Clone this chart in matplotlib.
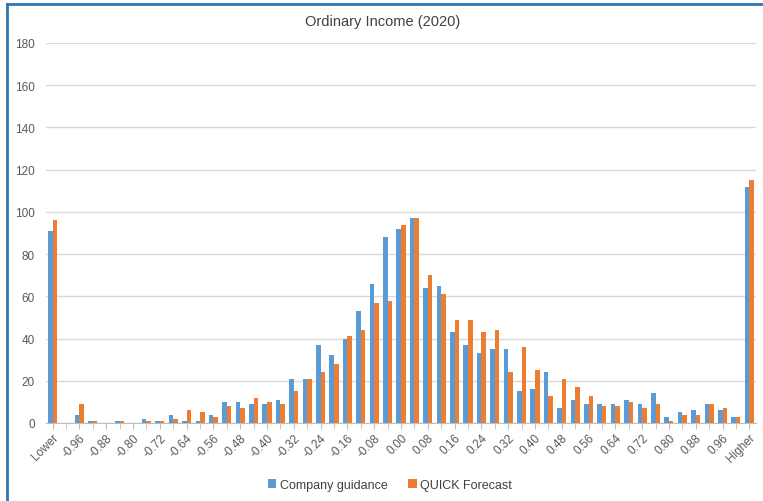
import matplotlib
matplotlib.use("Agg")
import matplotlib.pyplot as plt
from matplotlib.lines import Line2D
import numpy as np

plt.rcParams['font.family'] = ['Liberation Sans', 'DejaVu Sans']

# bins: Lower, -1.00 ... 1.00 step 0.04, Higher
edges = [round(-1.00 + 0.04 * i, 2) for i in range(51)]
categories = ['Lower'] + ['%.2f' % (e if abs(e) > 1e-9 else 0.0) for e in edges] + ['Higher']

company = [91, 0, 4, 1, 0, 1, 0, 2, 1, 4, 1, 1, 4, 10, 10, 9, 9, 11, 21, 21,
           37, 32, 40, 53, 66, 88, 92, 97, 64, 65, 43, 37, 33, 35, 35, 15, 16,
           24, 7, 11, 9, 9, 9, 11, 9, 14, 3, 5, 6, 9, 6, 3, 112]
quick = [96, 0, 9, 1, 0, 1, 0, 1, 1, 2, 6, 5, 3, 8, 7, 12, 10, 9, 15, 21,
         24, 28, 41, 44, 57, 58, 94, 97, 70, 61, 49, 49, 43, 44, 24, 36, 25,
         13, 21, 17, 13, 8, 8, 10, 7, 9, 1, 4, 4, 9, 7, 3, 115]

blue = '#5B9BD5'
orange = '#ED7D31'
grey_txt = '#595959'

fig = plt.figure(figsize=(7.63, 5.02), dpi=100)
ax = fig.add_axes([46 / 763, 1 - 424 / 502, 710 / 763, 380 / 502])

x = np.arange(len(categories))
w = 0.34
ax.bar(x - w / 2, company, width=w, color=blue, label='Company guidance', zorder=3)
ax.bar(x + w / 2, quick, width=w, color=orange, label='QUICK Forecast', zorder=3)

ax.set_xlim(-0.5, len(categories) - 0.5)
ax.set_ylim(0, 180)
ax.set_yticks(range(0, 181, 20))
ax.yaxis.grid(True, color='#D9D9D9', linewidth=1, zorder=0)
ax.tick_params(axis='y', length=0, labelsize=8.5, labelcolor=grey_txt, pad=8)

ax.set_xticks(x[::2])
ax.set_xticklabels(categories[::2], rotation=45, ha='right', rotation_mode='anchor')
ax.set_xticks(x, minor=True)
ax.tick_params(axis='x', which='both', length=4, color='#BFBFBF', labelsize=8.5,
               labelcolor=grey_txt, pad=2)

for s in ['left', 'right', 'top']:
    ax.spines[s].set_visible(False)
ax.spines['bottom'].set_color('#BFBFBF')

fig.text(383 / 763, 1 - 22 / 502, 'Ordinary Income (2020)', ha='center', va='center',
         fontsize=10.5, color='#404040')

fig.legend(loc='center', bbox_to_anchor=(390 / 763, 1 - 486 / 502), ncol=2,
           frameon=False, fontsize=9, handlelength=0.7, handleheight=0.7,
           handletextpad=0.3, columnspacing=1.6, labelcolor='#404040')

# blue frame on left and top of the screenshot
fig.add_artist(Line2D([7 / 763, 7 / 763], [0, 1 - 5 / 502], color='#2E75B6', linewidth=2,
                      transform=fig.transFigure))
fig.add_artist(Line2D([7 / 763, 1], [1 - 5 / 502, 1 - 5 / 502], color='#2E75B6', linewidth=2,
                      transform=fig.transFigure))

fig.savefig('out.png', dpi=100)
